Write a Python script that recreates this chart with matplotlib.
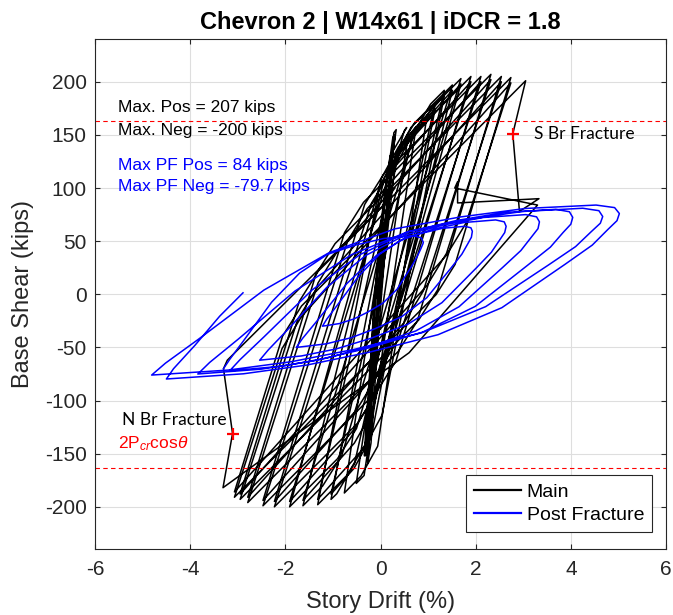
import matplotlib
matplotlib.use("Agg")
import matplotlib.pyplot as plt
import numpy as np

plt.rcParams["font.family"] = ["Liberation Sans", "DejaVu Sans"]
plt.rcParams["axes.unicode_minus"] = False
plt.rcParams["mathtext.fontset"] = "custom"
plt.rcParams["mathtext.rm"] = "Liberation Sans"
plt.rcParams["mathtext.it"] = "Liberation Sans:italic"

# --- data (drift %, base shear kips) ---
# elastic core cycles
main_core = [
    (0.00, 0), (0.07, 45), (0.11, 62), (0.07, 60), (-0.05, 0), (-0.13, -45),
    (-0.17, -62), (-0.13, -60), (-0.02, 0), (0.10, 60), (0.17, 98), (0.12, 96),
    (-0.04, 30), (-0.12, -20), (-0.20, -80), (-0.24, -100), (-0.20, -98),
    (-0.06, -20), (0.06, 50), (0.20, 110), (0.26, 132), (0.21, 130), (0.00, 60),
    (-0.14, -10), (-0.24, -90), (-0.29, -135), (-0.25, -133), (-0.10, -40),
    (0.04, 40), (0.22, 120), (0.31, 150), (0.26, 148), (0.02, 70), (-0.16, -30),
    (-0.30, -120), (-0.34, -152), (-0.30, -150), (-0.12, -50), (0.02, 30),
    (0.20, 115), (0.33, 155), (0.28, 152), (0.12, 70), (-0.12, -40),
    (-0.28, -140), (-0.32, -152), (-0.28, -150), (-0.08, -30), (0.05, 82),
    (0.20, 130), (0.55, 157), (0.50, 154), (0.22, 110), (-0.05, -40),
    (-0.20, -140), (-0.27, -159), (-0.05, -20), (0.30, 120), (0.45, 140),
]

# inelastic cycles (two per drift level): tip, knee, tip ...
main_cycles = [
    (0.75, 158), (-0.345, -170.5), (-0.51, -178),
    (0.568, 145.4), (0.96, 163),
    (-0.06, -143), (-0.41, -171), (-0.76, -187),
    (0.292, 128.6), (0.642, 157.1), (1.15, 180),
    (-0.546, -159.2), (-0.92, -187.7), (-1.04, -193),
    (0.331, 122.3), (0.696, 152.3), (1.15, 175),
    (-0.193, -133.9), (-0.558, -163.9), (-1.04, -188),
    (0.678, 150.6), (1.053, 179.1), (1.34, 192),
    (-0.329, -141.8), (-0.704, -170.3), (-1.32, -198),
    (0.015, 109), (0.38, 139), (1.34, 187),
    (0.033, -113.6), (-0.332, -143.6), (-1.32, -193),
    (0.332, 132.4), (0.707, 160.9), (1.51, 197),
    (-0.816, -151.9), (-1.216, -180.4), (-1.63, -199),
    (0.087, 110), (0.47, 140), (1.51, 192),
    (-0.169, -110.2), (-0.552, -140.2), (-1.63, -194),
    (0.676, 146.9), (1.076, 175.4), (1.69, 203),
    (-0.505, -126.3), (-0.905, -154.8), (-1.91, -200),
    (-0.022, 102.1), (0.372, 132.1), (1.69, 198),
    (-0.152, -96.8), (-0.546, -126.8), (-1.91, -195),
    (0.214, 118.6), (0.614, 147.1), (1.90, 205),
    (-0.087, -93.1), (-0.487, -121.6), (-2.23, -200),
    (-0.187, 86), (0.22, 116), (1.90, 200),
    (-0.087, -78.2), (-0.494, -108.2), (-2.23, -195),
    (-0.333, 84.6), (0.067, 113.1), (2.11, 205),
    (0.325, -62.8), (-0.075, -91.3), (-2.47, -199),
    (-0.688, 50.5), (-0.281, 80.5), (2.11, 200),
    (0.384, -41.6), (-0.023, -71.6), (-2.47, -194),
    (-0.756, 58.1), (-0.356, 86.6), (2.32, 207),
    (0.772, -25.2), (0.372, -53.7), (-2.79, -196),
    (-1.314, 10.6), (-0.907, 40.6), (2.32, 202),
    (0.899, 3.1), (0.492, -26.9), (-2.79, -191),
    (-1.355, 19.2), (-0.955, 47.7), (2.54, 205),
    (1.202, 4.3), (0.802, -24.2), (-2.95, -193),
    (-1.74, -23.6), (-1.333, 6.4), (2.54, 200),
    (1.386, 38.5), (0.979, 8.5), (-2.95, -188),
    (-1.708, -6.7), (-1.308, 21.8), (2.74, 204),
    (1.568, 28.2), (1.168, -0.3), (-3.07, -191),
    (-2.071, -51.2), (-1.664, -21.2), (2.74, 199),
    (1.797, 67), (1.39, 37), (-3.07, -186),
    (-2.06, -39.5), (-1.66, -11), (3.05, 201),
]

# fracture sequence
main_fracture = [
    (2.78, 151), (2.92, 78), (3.33, 90), (1.62, 86), (1.62, 106),
    (1.56, 100), (3.30, 84), (0.60, -55), (-3.31, -182), (-3.11, -131),
    (-3.30, -70), (-3.22, -62), (0.04, 83), (0.30, 100),
]

# post fracture response
post_fracture = [
    (-3.30, -70), (-3.17, -61.3), (-2.88, -43.8), (-2.29, -7.5), (-1.70, 20),
    (-1.12, 37.5), (-0.53, 46.3), (0.06, 52.5), (0.69, 55), (0.86, 53.1),
    (0.90, 48.8), (0.89, 47.4), (0.85, 43.1), (0.77, 35.5), (0.65, 26.1),
    (0.35, 4.9), (0.05, -8.3), (-0.27, -16.8), (-0.56, -23.2), (-0.86, -27.5),
    (-1.22, -30),
    (-1.13, -23.4), (-0.91, -10.3), (-0.46, 17), (-0.02, 37.7), (0.42, 50.8),
    (0.86, 57.4), (1.30, 62.1), (1.77, 64), (1.90, 62.6), (1.93, 59.3),
    (1.91, 53.7), (1.84, 48), (1.71, 37.8), (1.49, 25.2), (0.97, -3.3),
    (0.45, -20.9), (-0.11, -32.3), (-0.62, -40.9), (-1.14, -46.6), (-1.77, -50),
    (-1.64, -41.6), (-1.33, -24.8), (-0.71, 10), (-0.09, 36.4), (0.52, 53.2),
    (1.14, 61.6), (1.76, 67.6), (2.42, 70), (2.60, 68.2), (2.64, 64),
    (2.61, 58.1), (2.51, 51.5), (2.33, 39.6), (2.02, 25.1), (1.29, -7.9),
    (0.57, -28.3), (-0.21, -41.5), (-0.93, -51.4), (-1.66, -58), (-2.54, -62),
    (-2.36, -52.4), (-1.95, -33.2), (-1.13, 6.5), (-0.31, 36.6), (0.52, 55.8),
    (1.34, 65.4), (2.16, 72.3), (3.05, 75), (3.28, 72.9), (3.34, 68.2),
    (3.31, 61.8), (3.18, 54.4), (2.95, 41.2), (2.56, 25), (1.65, -11.7),
    (0.74, -34.5), (-0.24, -49.2), (-1.15, -60.2), (-2.06, -67.6), (-3.17, -72),
    (-2.95, -61.4), (-2.45, -40.1), (-1.44, 4), (-0.43, 37.4), (0.58, 58.7),
    (1.59, 69.4), (2.60, 77), (3.68, 80), (3.97, 77.7), (4.04, 72.4),
    (4.00, 66), (3.84, 58.3), (3.57, 44.4), (3.09, 27.3), (1.99, -11.4),
    (0.89, -35.5), (-0.29, -51), (-1.40, -62.6), (-2.50, -70.4), (-3.84, -75),
    (-3.59, -64.1), (-2.99, -42.2), (-1.80, 3), (-0.61, 37.3), (0.59, 59.2),
    (1.78, 70.1), (2.97, 77.9), (4.25, 81), (4.59, 78.7), (4.67, 73.2),
    (4.62, 66.9), (4.43, 59), (4.10, 44.9), (3.53, 27.6), (2.21, -11.6),
    (0.88, -36), (-0.54, -51.7), (-1.87, -63.4), (-3.20, -71.3), (-4.81, -76),
    (-4.52, -64.8), (-3.83, -42.4), (-2.45, 4), (-1.08, 39.2), (0.30, 61.6),
    (1.68, 72.8), (3.05, 80.8), (4.53, 84), (4.92, 81.6), (5.02, 76),
    (4.97, 69.3), (4.78, 61.1), (4.45, 46.3), (3.88, 28.3), (2.55, -12.6),
    (1.21, -38), (-0.22, -54.3), (-1.55, -66.6), (-2.88, -74.8), (-4.50, -79.7),
    (-4.35, -70), (-3.90, -48), (-3.38, -20.6), (-2.89, 1.4),
]

s_fracture = (2.78, 151)
n_fracture = (-3.11, -131)
pcr_level = 163
max_pos, max_neg = 207, -200
pf_max_pos, pf_max_neg = 84, -79.7

main = np.array(main_core + main_cycles + main_fracture)
pf = np.array(post_fracture)

fig = plt.figure(figsize=(6.73, 6.15), dpi=100)
ax = fig.add_axes([0.1412, 0.1068, 0.8484, 0.8293])

ax.plot(main[:, 0], main[:, 1], color="black", lw=1.1, label="Main")
ax.plot(pf[:, 0], pf[:, 1], color="blue", lw=1.1, label="Post Fracture")

for lvl in (pcr_level, -pcr_level):
    ax.axhline(lvl, color="red", ls=(0, (4, 3)), lw=0.8)

ax.plot(*s_fracture, "+", color="red", ms=9, mew=1.6)
ax.plot(*n_fracture, "+", color="red", ms=9, mew=1.6)

ax.text(-5.52, 171.5, f"Max. Pos = {max_pos} kips", fontsize=12.5, color="black")
ax.text(-5.52, 150, f"Max. Neg = {max_neg} kips", fontsize=12.5, color="black")
ax.text(-5.52, 117, f"Max PF Pos = {pf_max_pos} kips", fontsize=12.5, color="blue")
ax.text(-5.52, 96.8, f"Max PF Neg = {pf_max_neg} kips", fontsize=12.5, color="blue")
ax.text(3.23, 146, "S Br Fracture", fontsize=12.5, family="Lato", color="black")
ax.text(-5.43, -123, "N Br Fracture", fontsize=12.5, family="Lato", color="black")
ax.text(-5.51, -145, r"2P$_{cr}$cos$\it{\theta}$", fontsize=12.5, color="red")

ax.set_xlim(-6, 6)
ax.set_ylim(-240, 240)
ax.set_xticks(np.arange(-6, 7, 2))
ax.set_yticks(np.arange(-200, 201, 50))
ax.grid(True, color="#dedede", lw=0.8)
ax.set_axisbelow(True)
ax.tick_params(direction="in", length=3.8, width=0.8, top=True, right=True,
               labelsize=15, colors="#262626")
ax.tick_params(axis="x", pad=8)
ax.tick_params(axis="y", pad=6)
for sp in ax.spines.values():
    sp.set_color("#262626")
    sp.set_linewidth(0.8)

fig.text(380.5 / 673, 1 - 22 / 615, "Chevron 2 | W14x61 | iDCR = 1.8",
         fontsize=17, fontweight="bold", ha="center", va="center")
fig.text(381 / 673, 1 - 602 / 615, "Story Drift (%)", fontsize=17,
         ha="center", va="center", color="#262626")
fig.text(23 / 673, 1 - 294 / 615, "Base Shear (kips)", fontsize=17,
         ha="center", va="center", rotation=90, color="#262626")

leg = ax.legend(loc="lower right", bbox_to_anchor=(0.9755, 0.034), borderaxespad=0,
                fontsize=14, fancybox=False, edgecolor="#262626", framealpha=1,
                handlelength=2.4, handletextpad=0.3, borderpad=0.4, labelspacing=0.3)
leg.get_frame().set_linewidth(0.8)
for line in leg.get_lines():
    line.set_linewidth(1.6)

fig.savefig("out.png", dpi=100, facecolor="white")
